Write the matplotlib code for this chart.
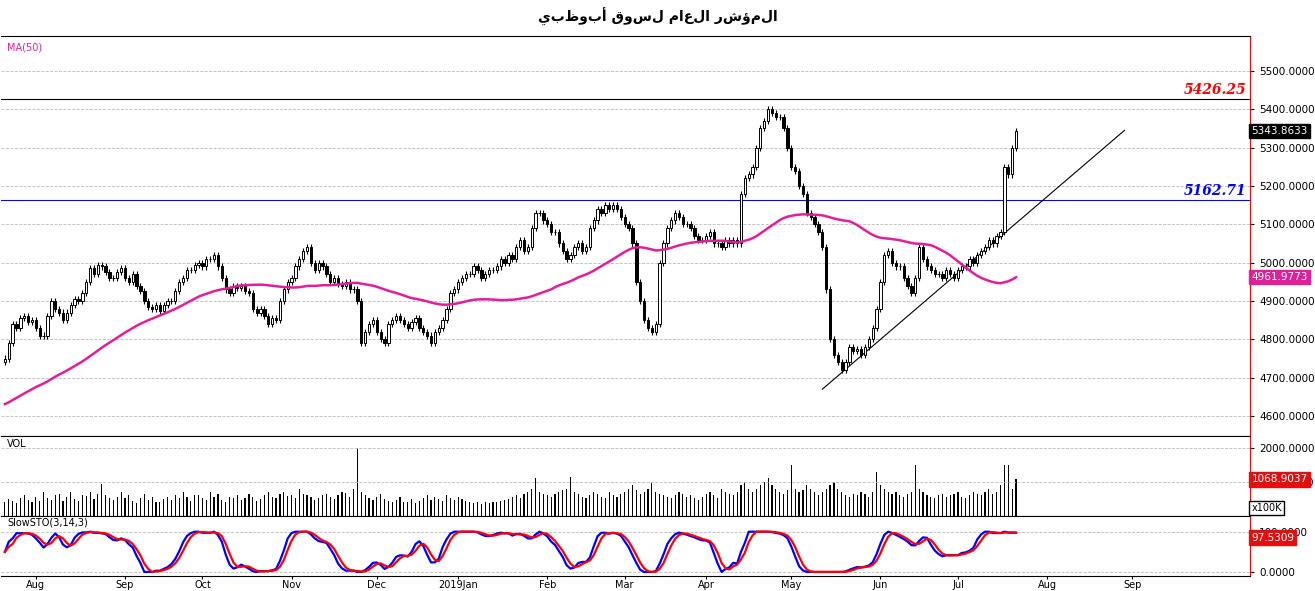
import numpy as np
import pandas as pd
import matplotlib.pyplot as plt

# daily closes, 20 Jul 2018 .. 22 Jul 2019
close = [
    4750, 4790, 4840, 4830, 4855, 4860, 4845, 4850, 4830, 4810,
    4810, 4860, 4900, 4880, 4870, 4850, 4870, 4890, 4905, 4900,
    4920, 4950, 4985, 4970, 4995, 4990, 4975, 4960, 4960, 4975,
    4985, 4960, 4950, 4970, 4940, 4925, 4900, 4885, 4880, 4890,
    4875, 4890, 4900, 4900, 4925, 4950, 4960, 4980, 4980, 4995,
    5000, 4990, 5010, 5010, 5020, 4990, 4960, 4930, 4920, 4940,
    4935, 4940, 4925, 4920, 4880, 4870, 4880, 4860, 4840, 4855,
    4850, 4900, 4930, 4950, 4960, 4990, 5010, 5030, 5040, 5000,
    4980, 5000, 4990, 4970, 4950, 4960, 4945, 4940, 4950, 4930,
    4930, 4900, 4790, 4820, 4840, 4850, 4820, 4800, 4790, 4840,
    4850, 4860, 4850, 4840, 4830, 4845, 4855, 4830, 4820, 4810,
    4790, 4820, 4830, 4850, 4880, 4920, 4930, 4950, 4960, 4970,
    4970, 4990, 4980, 4960, 4970, 4980, 4980, 4990, 5010, 5000,
    5020, 5010, 5040, 5060, 5030, 5040, 5090, 5130, 5130, 5110,
    5100, 5080, 5080, 5050, 5030, 5010, 5020, 5040, 5050, 5030,
    5040, 5090, 5110, 5140, 5130, 5150, 5140, 5150, 5140, 5120,
    5100, 5090, 5050, 4950, 4900, 4850, 4830, 4820, 4840, 5000,
    5050, 5090, 5110, 5130, 5120, 5100, 5100, 5090, 5070, 5060,
    5060, 5070, 5080, 5050, 5050, 5040, 5060, 5050, 5060, 5050,
    5180, 5220, 5230, 5250, 5300, 5350, 5370, 5400, 5390, 5380,
    5380, 5350, 5300, 5250, 5240, 5200, 5180, 5130, 5120, 5100,
    5080, 5040, 4930, 4800, 4760, 4740, 4720, 4740, 4780, 4770,
    4775, 4760, 4780, 4800, 4830, 4880, 4950, 5020, 5030, 5000,
    4990, 4990, 4960, 4940, 4920, 4960, 5040, 5010, 4990, 4980,
    4970, 4970, 4960, 4980, 4970, 4960, 4980, 4990, 4990, 5010,
    5000, 5020, 5030, 5040, 5060, 5050, 5070, 5080, 5250, 5230,
    5300, 5343.8633,
]

# closes before the visible window, only used to seed the MA(50)
hist = [
    4540, 4550, 4545, 4560, 4555, 4570, 4565, 4560, 4575, 4580,
    4570, 4585, 4590, 4580, 4595, 4600, 4590, 4605, 4610, 4600,
    4615, 4620, 4610, 4625, 4630, 4620, 4635, 4640, 4630, 4645,
    4650, 4640, 4655, 4660, 4650, 4665, 4670, 4660, 4675, 4680,
    4670, 4685, 4690, 4680, 4695, 4700, 4690, 4705, 4710, 4720,
]

# volume in units of 100K
volume = [
    420, 500, 450, 380, 520, 610, 480, 400, 560, 450,
    700, 520, 480, 600, 650, 430, 560, 700, 500, 450,
    620, 580, 700, 500, 640, 950, 600, 520, 480, 560,
    700, 520, 600, 450, 380, 520, 640, 480, 560, 400,
    420, 500, 560, 480, 600, 520, 700, 560, 450, 620,
    600, 520, 480, 700, 560, 650, 480, 400, 560, 520,
    600, 480, 520, 650, 560, 450, 500, 620, 700, 560,
    520, 650, 700, 580, 600, 520, 800, 650, 600, 560,
    480, 520, 600, 640, 560, 500, 620, 700, 680, 560,
    800, 2000, 700, 600, 520, 480, 560, 640, 500, 450,
    420, 480, 560, 400, 420, 500, 380, 450, 520, 600,
    480, 560, 500, 440, 600, 520, 480, 560, 500, 440,
    400, 380, 420, 360, 400, 380, 420, 400, 440, 460,
    500, 560, 600, 520, 640, 700, 800, 1100, 700, 640,
    600, 560, 640, 700, 750, 800, 1150, 700, 640, 560,
    520, 600, 700, 640, 560, 520, 700, 600, 560, 640,
    700, 800, 900, 760, 640, 700, 800, 1000, 700, 640,
    600, 560, 520, 600, 700, 640, 560, 600, 520, 480,
    560, 640, 700, 600, 520, 800, 700, 640, 600, 700,
    900, 1000, 800, 700, 800, 900, 1000, 1100, 900, 800,
    700, 640, 760, 1500, 800, 700, 760, 900, 800, 700,
    600, 700, 800, 900, 1000, 800, 700, 600, 560, 640,
    600, 700, 640, 560, 700, 1300, 900, 800, 700, 640,
    700, 600, 560, 640, 700, 1500, 800, 700, 600, 560,
    520, 600, 640, 560, 600, 640, 700, 560, 520, 600,
    700, 640, 600, 700, 800, 640, 700, 900, 1500, 1500,
    800, 1068.9037,
]

resist = 5426.25
support = 5162.71
trend_dates = ['2019-05-13', '2019-08-29']
trend_vals = [4670, 5345]

dates = pd.bdate_range('2018-07-20', periods=len(close))
future = pd.bdate_range(dates[-1], periods=90)
alldates = dates.append(future[1:])
idx = np.arange(len(close))
c = np.array(close)
o = np.r_[c[0] - 10, c[:-1]]
ma = pd.Series(hist + close).rolling(50).mean().values[len(hist):]

s = pd.Series(close)
lo = s.rolling(14, min_periods=1).min()
hi = s.rolling(14, min_periods=1).max()
k = (100 * (s - lo) / (hi - lo).replace(0, np.nan)).fillna(50)
slowk = k.rolling(3, min_periods=1).mean()
slowd = slowk.rolling(3, min_periods=1).mean()

fig = plt.figure(figsize=(13.15, 5.91), dpi=100)
W, H = 1315, 591
left, right = 1 / W, 1250 / W
ax = fig.add_axes([left, 1 - 436 / H, right - left, 400 / H])
axv = fig.add_axes([left, 1 - 516 / H, right - left, 80 / H], sharex=ax)
axs = fig.add_axes([left, 1 - 576 / H, right - left, 60 / H], sharex=ax)

fig.text(0.5, 1 - 17 / H, 'المؤشر العام لسوق أبوظبي'[::-1], ha='center', va='center',
         fontsize=10, fontweight='bold', family=['DejaVu Sans'])

# candles
up = c >= o
ax.vlines(idx, np.minimum(o, c) - 8, np.maximum(o, c) + 8, color='black', lw=0.8, zorder=2)
ax.bar(idx[up], (c - o)[up], bottom=o[up], width=0.6, color='white', edgecolor='black', lw=0.7, zorder=3)
ax.bar(idx[~up], (c - o)[~up], bottom=o[~up], width=0.6, color='black', edgecolor='black', lw=0.7, zorder=3)
ax.plot(idx, ma, color='#e0209a', lw=1.8, zorder=4)

ax.axhline(resist, color='black', lw=0.8)
ax.axhline(support, color='blue', lw=0.8)
tx = [alldates.searchsorted(pd.Timestamp(d)) for d in trend_dates]
ax.plot(tx, trend_vals, color='black', lw=0.8)
xmax = (1250 - 3) / 3.88
ax.text(xmax - 1, resist + 5, f'{resist:.2f}', color='red', fontsize=10, fontweight='bold',
        style='italic', ha='right', va='bottom', family='DejaVu Serif')
ax.text(xmax - 1, support + 5, f'{support:.2f}', color='blue', fontsize=10, fontweight='bold',
        style='italic', ha='right', va='bottom', family='DejaVu Serif')
ax.text(0.005, 0.985, 'MA(50)', transform=ax.transAxes, color='#e0209a', fontsize=7, va='top')

ax.set_ylim(4548, 5591)
ax.set_yticks(np.arange(4600, 5501, 100))
ax.grid(axis='y', color='#bbbbbb', ls='--', lw=0.6)

# volume
axv.bar(idx, volume, width=0.3, color='black')
axv.set_ylim(0, 2340)
axv.set_yticks([1000, 2000])
axv.grid(axis='y', color='#bbbbbb', ls='--', lw=0.6)
axv.text(0.005, 0.96, 'VOL', transform=axv.transAxes, fontsize=7, va='top')

# stochastic
axs.plot(idx, slowk, color='blue', lw=1.6)
axs.plot(idx, slowd, color='red', lw=1.6)
axs.set_ylim(-10, 139)
axs.set_yticks([0, 100])
axs.grid(axis='y', color='#bbbbbb', ls='--', lw=0.6)
axs.text(0.005, 0.97, 'SlowSTO(3,14,3)', transform=axs.transAxes, fontsize=7, va='top')

for a in (ax, axv, axs):
    a.yaxis.tick_right()
    a.yaxis.set_major_formatter(plt.FormatStrFormatter('%.4f'))
    a.tick_params(axis='y', labelsize=7.5, length=3)
    a.tick_params(axis='x', length=0)
    a.spines['right'].set_color('red')
    a.spines['left'].set_visible(False)
ax.tick_params(axis='x', labelbottom=False)
axv.tick_params(axis='x', labelbottom=False)

months = pd.date_range('2018-08-01', '2019-09-01', freq='MS')
mpos = [alldates.searchsorted(m) for m in months]
mlab = [('2019Jan' if m.month == 1 else m.strftime('%b')) for m in months]
axs.set_xticks(mpos)
axs.set_xticklabels(mlab, fontsize=7)
axs.tick_params(axis='x', length=2, pad=1)
axs.set_xlim(-1, xmax)

# last value boxes
def box(a, y, txt, fc, tc='white'):
    a.annotate(txt, xy=(1.0, y), xycoords=('axes fraction', 'data'), xytext=(1, 0),
               textcoords='offset points', va='center', ha='left', fontsize=7.5, color=tc,
               bbox=dict(boxstyle='square,pad=0.2', fc=fc, ec=fc), annotation_clip=False,
               zorder=10)

box(ax, c[-1], f'{c[-1]:.4f}', 'black')
box(ax, ma[-1], f'{ma[-1]:.4f}', '#e0209a')
box(axv, volume[-1], f'{volume[-1]:.4f}', '#e01010')
box(axs, slowd.values[-1] - 12, f'{slowd.values[-1]:.4f}', '#e01010')
axv.annotate('x100K', xy=(1.0, 0.1), xycoords='axes fraction', xytext=(1, 0),
             textcoords='offset points', va='center', fontsize=7,
             bbox=dict(boxstyle='square,pad=0.2', fc='white', ec='black'), annotation_clip=False)

fig.savefig('out.png', dpi=100)
